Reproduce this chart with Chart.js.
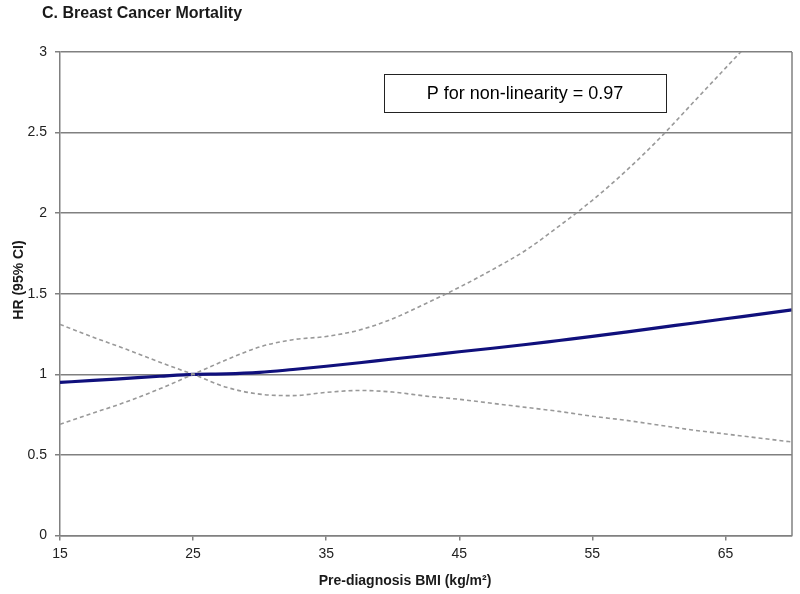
<!DOCTYPE html>
<html>
<head>
<meta charset="utf-8">
<script src="https://cdn.jsdelivr.net/npm/chart.js@4/dist/chart.umd.min.js"></script>
<style>
  html, body { margin: 0; padding: 0; background: #fff; }
  #wrap { width: 800px; height: 594px; position: relative; }
</style>
</head>
<body>
<div id="wrap"><canvas id="c" width="800" height="594"></canvas></div>
<script>
const chartTitle = "C. Breast Cancer Mortality";
const xTitle = "Pre-diagnosis BMI (kg/m\u00B2)";
const yTitle = "HR (95% CI)";
const noteText = "P for non-linearity = 0.97";

const xTicks = [15, 25, 35, 45, 55, 65];
const yTicks = [0, 0.5, 1, 1.5, 2, 2.5, 3];

const bmi   = [15, 17.5, 20, 22.5, 25, 27.5, 30, 32.5, 35, 37.5, 40, 42.5, 45, 47.5, 50, 52.5, 55, 57.5, 60, 62.5, 65, 67.5, 70];
const hr    = [0.95, 0.962, 0.975, 0.988, 1.0, 1.003, 1.012, 1.03, 1.05, 1.072, 1.095, 1.117, 1.14, 1.162, 1.185, 1.21, 1.235, 1.262, 1.29, 1.317, 1.345, 1.372, 1.40];
const upper = [0.69, 0.76, 0.83, 0.91, 1.0, 1.09, 1.17, 1.215, 1.235, 1.275, 1.345, 1.44, 1.54, 1.65, 1.77, 1.92, 2.08, 2.26, 2.46, 2.68, 2.9, 3.12, 3.35];
const lower = [1.31, 1.23, 1.155, 1.075, 1.0, 0.92, 0.877, 0.868, 0.888, 0.9, 0.89, 0.865, 0.845, 0.82, 0.795, 0.77, 0.74, 0.715, 0.685, 0.655, 0.63, 0.605, 0.58];

const pts = arr => bmi.map((x, i) => ({ x: x, y: arr[i] }));
const FONT = "'Liberation Sans', Arial, sans-serif";

const decor = {
  id: 'decor',
  afterDraw(chart) {
    const ctx = chart.ctx;
    const a = chart.chartArea;
    ctx.save();
    // right border
    ctx.strokeStyle = '#808080';
    ctx.lineWidth = 1.5;
    ctx.beginPath();
    ctx.moveTo(a.right, a.top);
    ctx.lineTo(a.right, a.bottom);
    ctx.stroke();
    // chart title
    ctx.fillStyle = '#1a1a1a';
    ctx.font = "bold 16px " + FONT;
    ctx.textAlign = 'left';
    ctx.textBaseline = 'middle';
    ctx.fillText(chartTitle, 42, 14);
    // x title
    ctx.font = "bold 14px " + FONT;
    ctx.textAlign = 'center';
    ctx.fillText(xTitle, 405, 581);
    // y title
    ctx.save();
    ctx.translate(19, 280);
    ctx.rotate(-Math.PI / 2);
    ctx.fillText(yTitle, 0, 0);
    ctx.restore();
    // note box
    ctx.fillStyle = '#fff';
    ctx.fillRect(384, 74, 282, 38);
    ctx.strokeStyle = '#222';
    ctx.lineWidth = 1;
    ctx.strokeRect(384.5, 74.5, 282, 38);
    ctx.fillStyle = '#000';
    ctx.font = "18px " + FONT;
    ctx.textAlign = 'center';
    ctx.textBaseline = 'middle';
    ctx.fillText(noteText, 525, 94);
    ctx.restore();
  }
};

new Chart(document.getElementById('c'), {
  type: 'line',
  data: {
    datasets: [
      { label: 'Upper CI', data: pts(upper), borderColor: '#999999', borderWidth: 1.6, borderDash: [4, 3], pointRadius: 0, fill: false, cubicInterpolationMode: 'monotone' },
      { label: 'Lower CI', data: pts(lower), borderColor: '#999999', borderWidth: 1.6, borderDash: [4, 3], pointRadius: 0, fill: false, cubicInterpolationMode: 'monotone' },
      { label: 'HR', data: pts(hr), borderColor: '#10107c', borderWidth: 3.2, pointRadius: 0, fill: false, cubicInterpolationMode: 'monotone' }
    ]
  },
  options: {
    responsive: false,
    animation: false,
    devicePixelRatio: 1,
    layout: { padding: { top: 52, right: 8, bottom: 0, left: 0 } },
    plugins: { legend: { display: false }, tooltip: { enabled: false }, title: { display: false } },
    scales: {
      x: {
        type: 'linear',
        min: 15, max: 70,
        afterBuildTicks: s => { s.ticks = xTicks.map(v => ({ value: v })); },
        afterFit: s => { s.height = 58.5; },
        grid: { drawOnChartArea: false, drawTicks: true, tickLength: 5, color: '#808080', lineWidth: 1.5 },
        border: { display: true, color: '#808080', width: 1.5 },
        ticks: { color: '#222', font: { family: FONT, size: 14 }, padding: 5, maxRotation: 0, callback: v => String(v) }
      },
      y: {
        min: 0, max: 3,
        afterBuildTicks: s => { s.ticks = yTicks.map(v => ({ value: v })); },
        afterFit: s => { s.width = 60; },
        grid: { drawOnChartArea: true, drawTicks: true, tickLength: 5, color: '#808080', lineWidth: 1.5 },
        border: { display: true, color: '#808080', width: 1.5 },
        ticks: { color: '#222', font: { family: FONT, size: 14 }, padding: 8, callback: v => String(v) }
      }
    }
  },
  plugins: [decor]
});
</script>
</body>
</html>
